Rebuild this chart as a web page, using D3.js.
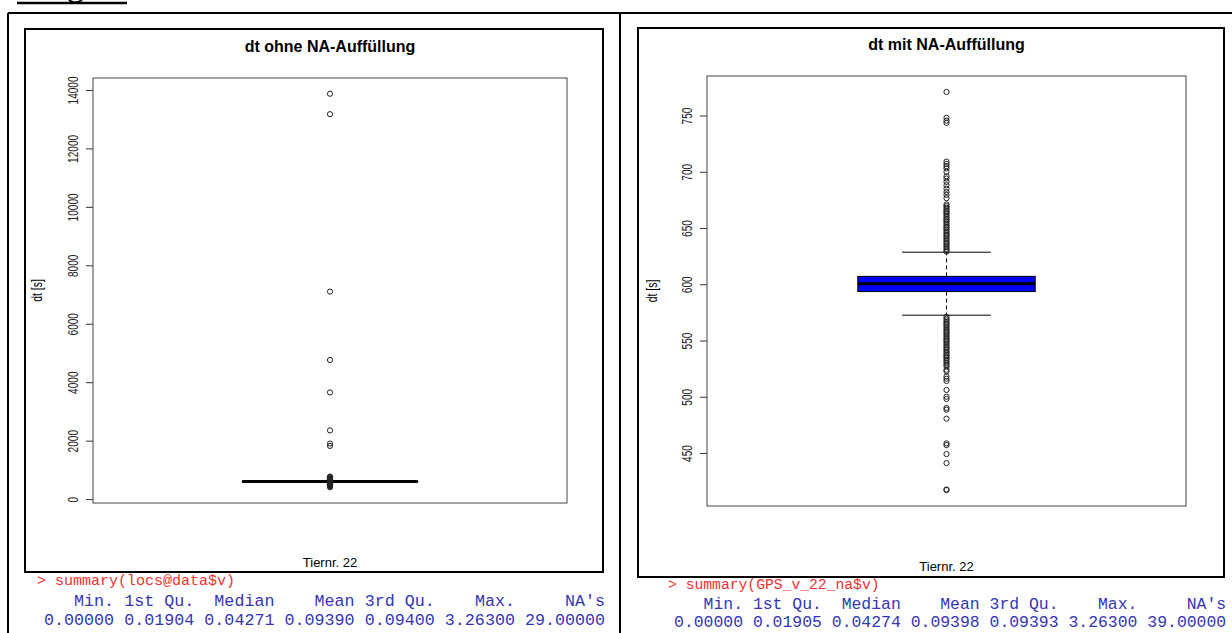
<!DOCTYPE html>
<html><head><meta charset="utf-8">
<script src="https://cdn.jsdelivr.net/npm/d3@7"></script>
<style>
html,body{margin:0;padding:0;background:#fff;}
svg{display:block;}
</style></head>
<body>
<svg id="c" width="1232" height="633"></svg>
<script>
// ---------------- DATA ----------------
const leftTitle = "dt ohne NA-Auffüllung";
const rightTitle = "dt mit NA-Auffüllung";
const groupLabel = "Tiernr. 22";
const yLabel = "dt [s]";

// box statistics: lower whisker, Q1, median, Q3, upper whisker
const leftStats = [572, 593, 600, 607, 628];
const leftOutliers = [13870, 13170, 7100, 4760, 3650, 2350, 1900, 1820,
  772, 748, 745, 709, 700, 690, 680, 670, 660, 650, 640, 632,
  568, 555, 540, 525, 515, 505, 498, 490, 480, 458, 449, 441, 405];
const leftTicks = [0, 2000, 4000, 6000, 8000, 10000, 12000, 14000];

const rightStats = [572.5, 593.5, 600.5, 607, 628.5];
const rightOutliers = [771, 748, 745.5, 743.5, 709, 707, 705, 703, 700, 696, 694, 691, 688, 685, 682, 679.5, 676.5, 671,
  669.5, 668, 666.5, 665, 664, 662.5, 661, 659.5, 658, 657, 655.5, 654, 652.5, 651, 650, 648.5, 647, 645.5,
  644, 643, 641.5, 640, 638.5, 637, 636, 634.5, 633, 631.5, 630, 629,
  571, 569.5, 568, 566.5, 565, 564, 562.5, 561, 559.5, 558, 557, 555.5, 554, 552.5, 551, 550, 548.5, 547,
  545.5, 544, 543, 541.5, 540, 538.5, 537, 536, 534.5, 533, 531.5, 530, 528.5, 527, 524, 522.5, 518, 516,
  514, 506, 500, 498, 490, 488.5, 480.5, 458.5, 457, 449, 441, 417.5, 417];
const rightTicks = [450, 500, 550, 600, 650, 700, 750];

const summaryHeaders = ["Min.", "1st Qu.", "Median", "Mean", "3rd Qu.", "Max.", "NA's"];
const leftSummary = ["0.00000", "0.01904", "0.04271", "0.09390", "0.09400", "3.26300", "29.00000"];
const rightSummary = ["0.00000", "0.01905", "0.04274", "0.09398", "0.09393", "3.26300", "39.00000"];
const leftCommand = "> summary(locs@data$v)";
const rightCommand = "> summary(GPS_v_22_na$v)";

// ---------------- DRAW ----------------
const svg = d3.select("#c");
const SANS = "'Liberation Sans', Arial, sans-serif";
const MONO = "'Liberation Mono', 'Courier New', monospace";

// outer document frame
svg.append("line").attr("x1", 17).attr("x2", 127).attr("y1", 3).attr("y2", 3).attr("stroke", "#000").attr("stroke-width", 2.5);
svg.append("path").attr("d", "M69,0 Q75,5 82,0").attr("fill", "none").attr("stroke", "#000").attr("stroke-width", 2);
svg.append("line").attr("x1", 8).attr("x2", 1232).attr("y1", 13).attr("y2", 13).attr("stroke", "#000").attr("stroke-width", 2);
svg.append("line").attr("x1", 8).attr("x2", 8).attr("y1", 13).attr("y2", 633).attr("stroke", "#000").attr("stroke-width", 2);
svg.append("line").attr("x1", 620).attr("x2", 620).attr("y1", 13).attr("y2", 633).attr("stroke", "#000").attr("stroke-width", 2);

function panel(cfg) {
  const g = svg.append("g");
  // panel image border
  g.append("rect").attr("x", cfg.frame[0]).attr("y", cfg.frame[1])
    .attr("width", cfg.frame[2] - cfg.frame[0]).attr("height", cfg.frame[3] - cfg.frame[1])
    .attr("fill", "#fff").attr("stroke", "#000").attr("stroke-width", 2);

  const [L, T, R, B] = cfg.plot;
  const all = cfg.outliers.concat(cfg.stats);
  const mn = d3.min(all), mx = d3.max(all), pad = (mx - mn) * 0.04;
  const y = d3.scaleLinear().domain([mn - pad, mx + pad]).range([B, T]);
  const x = d3.scaleLinear().domain([0.46, 1.54]).range([L, R]);

  // title
  g.append("text").attr("x", (L + R) / 2).attr("y", cfg.titleY).attr("text-anchor", "middle")
    .attr("font-family", SANS).attr("font-weight", "bold").attr("font-size", 16).text(cfg.title);
  // x label
  g.append("text").attr("x", (L + R) / 2).attr("y", cfg.xlabY).attr("text-anchor", "middle")
    .attr("font-family", SANS).attr("font-size", 13).text(groupLabel);
  // y label
  g.append("text").attr("transform", `translate(${cfg.ylabX},${(T + B) / 2}) rotate(-90) scale(0.95,1.25)`)
    .attr("text-anchor", "middle").attr("font-family", SANS).attr("font-size", 11).text(yLabel);

  // axis
  const ax = g.append("g").attr("transform", `translate(${L},0)`)
    .call(d3.axisLeft(y).tickValues(cfg.ticks).tickSize(7).tickFormat(d3.format("d")));
  ax.select(".domain").remove();
  ax.selectAll(".tick line").attr("stroke", "#333");
  ax.selectAll(".tick text").attr("transform", "rotate(-90) scale(0.92,1.4)").attr("x", 0).attr("y", -15 / 1.4).attr("dy", 0)
    .attr("text-anchor", "middle").attr("font-family", SANS).attr("font-size", 11).attr("fill", "#222");

  // frame
  g.append("rect").attr("x", L).attr("y", T).attr("width", R - L).attr("height", B - T)
    .attr("fill", "none").attr("stroke", "#444").attr("stroke-width", 1);

  const [lw, q1, med, q3, uw] = cfg.stats;
  const cx = x(1), bw = x(1.2) - x(1), sw = x(1.1) - x(1);
  // whiskers
  g.append("line").attr("x1", cx).attr("x2", cx).attr("y1", y(q3)).attr("y2", y(uw)).attr("stroke", "#000").attr("stroke-dasharray", "4,3");
  g.append("line").attr("x1", cx).attr("x2", cx).attr("y1", y(q1)).attr("y2", y(lw)).attr("stroke", "#000").attr("stroke-dasharray", "4,3");
  g.append("line").attr("x1", cx - sw).attr("x2", cx + sw).attr("y1", y(uw)).attr("y2", y(uw)).attr("stroke", "#000");
  g.append("line").attr("x1", cx - sw).attr("x2", cx + sw).attr("y1", y(lw)).attr("y2", y(lw)).attr("stroke", "#000");
  // box
  g.append("rect").attr("x", cx - bw).attr("y", y(q3)).attr("width", 2 * bw).attr("height", Math.max(0, y(q1) - y(q3)))
    .attr("fill", cfg.fill).attr("stroke", "#000").attr("stroke-width", 1);
  g.append("line").attr("x1", cx - bw).attr("x2", cx + bw).attr("y1", y(med)).attr("y2", y(med))
    .attr("stroke", "#000").attr("stroke-width", 3);
  // outliers
  g.selectAll("circle.o").data(cfg.outliers).join("circle").attr("class", "o")
    .attr("cx", cx).attr("cy", d => y(d)).attr("r", 2.6)
    .attr("fill", "none").attr("stroke", "#222").attr("stroke-width", 1);

  // console summary
  const c = cfg.console;
  g.append("text").attr("x", c.cmdX).attr("y", c.cmdY).attr("font-family", MONO).attr("font-size", c.cmdSize)
    .attr("fill", "#f03030").text(cfg.command);
  const widths = summaryHeaders.map((h, i) => Math.max(h.length, cfg.summary[i].length));
  let end = 0;
  widths.forEach((w, i) => {
    end += w + (i > 0 ? 1 : 0);
    const xe = c.x0 + c.cw * end;
    g.append("text").attr("x", xe).attr("y", c.hY).attr("text-anchor", "end").attr("font-family", MONO)
      .attr("font-size", c.cw / 0.6).attr("fill", "#3535b5").text(summaryHeaders[i]);
    g.append("text").attr("x", xe).attr("y", c.vY).attr("text-anchor", "end").attr("font-family", MONO)
      .attr("font-size", c.cw / 0.6).attr("fill", "#3535b5").text(cfg.summary[i]);
  });
}

panel({
  frame: [25, 29, 603, 572], plot: [93, 78, 567, 503], title: leftTitle, titleY: 52, xlabY: 567, ylabX: 42,
  stats: leftStats, outliers: leftOutliers, ticks: leftTicks, fill: "none",
  command: leftCommand, summary: leftSummary,
  console: { cmdX: 37, cmdY: 585, cmdSize: 15, x0: 44, cw: 10.02, hY: 606, vY: 625 }
});
panel({
  frame: [638, 28, 1224, 577], plot: [707, 76, 1186, 506], title: rightTitle, titleY: 50, xlabY: 571, ylabX: 657,
  stats: rightStats, outliers: rightOutliers, ticks: rightTicks, fill: "#0000ff",
  command: rightCommand, summary: rightSummary,
  console: { cmdX: 668, cmdY: 589, cmdSize: 14.7, x0: 674, cw: 9.86, hY: 609, vY: 627 }
});
</script>
</body></html>
